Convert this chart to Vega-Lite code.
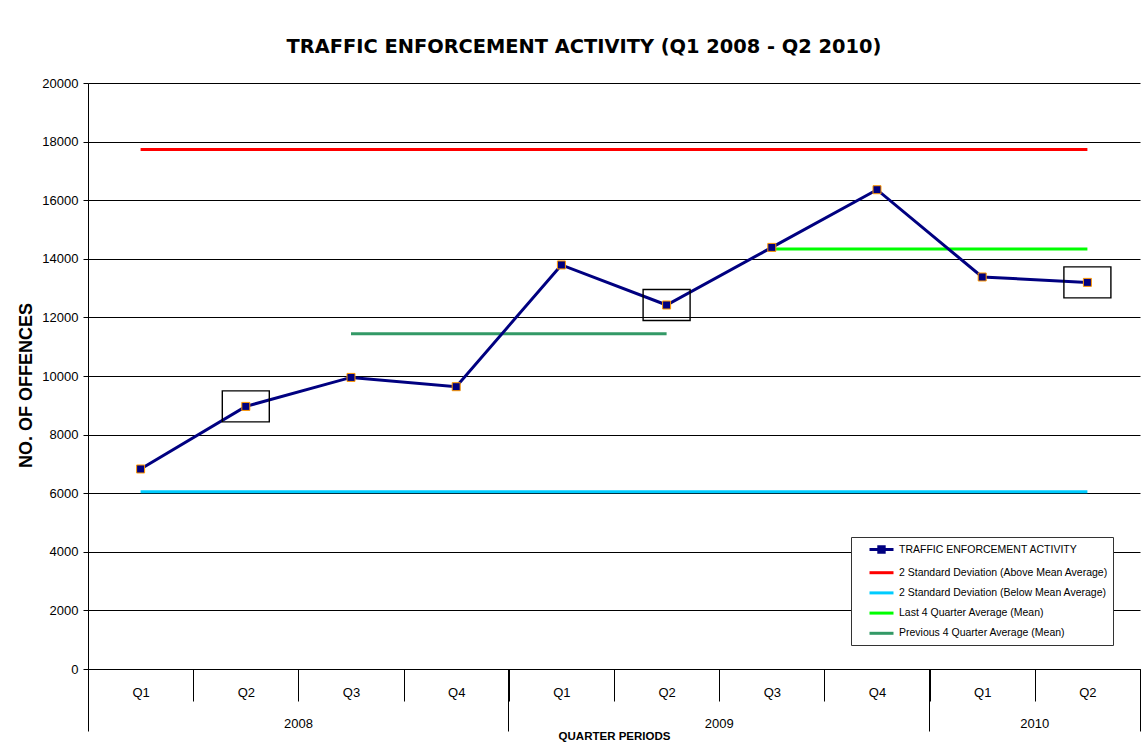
{
  "$schema": "https://vega.github.io/schema/vega-lite/v6.json",
  "autosize": "none",
  "width": 1052,
  "height": 586,
  "padding": {"left": 88, "top": 83, "right": 4, "bottom": 77},
  "background": "#ffffff",
  "config": {
    "view": {"stroke": null},
    "numberFormat": "d",
    "axisY": {
      "titleFont": "Liberation Sans", "titleFontSize": 18, "titleFontWeight": "bold", "titleColor": "#000000", "titlePadding": 6, "titleY": 302,
      "labelFont": "Liberation Sans", "labelFontSize": 13, "labelColor": "#000000", "labelPadding": 5,
      "tickSize": 5, "tickColor": "#000000", "tickCount": 10,
      "domainColor": "#000000",
      "grid": true, "gridColor": "#000000", "gridWidth": 1
    }
  },
  "title": {
    "text": "TRAFFIC ENFORCEMENT ACTIVITY (Q1 2008 - Q2 2010)",
    "font": "DejaVu Sans",
    "fontSize": 19.4,
    "fontWeight": "bold",
    "color": "#000000",
    "anchor": "middle",
    "frame": "group",
    "dx": -30,
    "offset": 20
  },
  "datasets": {
    "activity": [
      {"period": "2008 Q1", "value": 6826, "series": "TRAFFIC ENFORCEMENT ACTIVITY", "highlight": false},
      {"period": "2008 Q2", "value": 8962, "series": "TRAFFIC ENFORCEMENT ACTIVITY", "highlight": true},
      {"period": "2008 Q3", "value": 9952, "series": "TRAFFIC ENFORCEMENT ACTIVITY", "highlight": false},
      {"period": "2008 Q4", "value": 9635, "series": "TRAFFIC ENFORCEMENT ACTIVITY", "highlight": false},
      {"period": "2009 Q1", "value": 13790, "series": "TRAFFIC ENFORCEMENT ACTIVITY", "highlight": false},
      {"period": "2009 Q2", "value": 12423, "series": "TRAFFIC ENFORCEMENT ACTIVITY", "highlight": true},
      {"period": "2009 Q3", "value": 14389, "series": "TRAFFIC ENFORCEMENT ACTIVITY", "highlight": false},
      {"period": "2009 Q4", "value": 16358, "series": "TRAFFIC ENFORCEMENT ACTIVITY", "highlight": false},
      {"period": "2010 Q1", "value": 13379, "series": "TRAFFIC ENFORCEMENT ACTIVITY", "highlight": false},
      {"period": "2010 Q2", "value": 13195, "series": "TRAFFIC ENFORCEMENT ACTIVITY", "highlight": true}
    ],
    "reference": [
      {"period": "2008 Q1", "value": 17734, "series": "2 Standard Deviation (Above Mean Average)"},
      {"period": "2008 Q2", "value": 17734, "series": "2 Standard Deviation (Above Mean Average)"},
      {"period": "2008 Q3", "value": 17734, "series": "2 Standard Deviation (Above Mean Average)"},
      {"period": "2008 Q4", "value": 17734, "series": "2 Standard Deviation (Above Mean Average)"},
      {"period": "2009 Q1", "value": 17734, "series": "2 Standard Deviation (Above Mean Average)"},
      {"period": "2009 Q2", "value": 17734, "series": "2 Standard Deviation (Above Mean Average)"},
      {"period": "2009 Q3", "value": 17734, "series": "2 Standard Deviation (Above Mean Average)"},
      {"period": "2009 Q4", "value": 17734, "series": "2 Standard Deviation (Above Mean Average)"},
      {"period": "2010 Q1", "value": 17734, "series": "2 Standard Deviation (Above Mean Average)"},
      {"period": "2010 Q2", "value": 17734, "series": "2 Standard Deviation (Above Mean Average)"},
      {"period": "2008 Q1", "value": 6051, "series": "2 Standard Deviation (Below Mean Average)"},
      {"period": "2008 Q2", "value": 6051, "series": "2 Standard Deviation (Below Mean Average)"},
      {"period": "2008 Q3", "value": 6051, "series": "2 Standard Deviation (Below Mean Average)"},
      {"period": "2008 Q4", "value": 6051, "series": "2 Standard Deviation (Below Mean Average)"},
      {"period": "2009 Q1", "value": 6051, "series": "2 Standard Deviation (Below Mean Average)"},
      {"period": "2009 Q2", "value": 6051, "series": "2 Standard Deviation (Below Mean Average)"},
      {"period": "2009 Q3", "value": 6051, "series": "2 Standard Deviation (Below Mean Average)"},
      {"period": "2009 Q4", "value": 6051, "series": "2 Standard Deviation (Below Mean Average)"},
      {"period": "2010 Q1", "value": 6051, "series": "2 Standard Deviation (Below Mean Average)"},
      {"period": "2010 Q2", "value": 6051, "series": "2 Standard Deviation (Below Mean Average)"},
      {"period": "2009 Q3", "value": 14334, "series": "Last 4 Quarter Average (Mean)"},
      {"period": "2009 Q4", "value": 14334, "series": "Last 4 Quarter Average (Mean)"},
      {"period": "2010 Q1", "value": 14334, "series": "Last 4 Quarter Average (Mean)"},
      {"period": "2010 Q2", "value": 14334, "series": "Last 4 Quarter Average (Mean)"},
      {"period": "2008 Q3", "value": 11443, "series": "Previous 4 Quarter Average (Mean)"},
      {"period": "2008 Q4", "value": 11443, "series": "Previous 4 Quarter Average (Mean)"},
      {"period": "2009 Q1", "value": 11443, "series": "Previous 4 Quarter Average (Mean)"},
      {"period": "2009 Q2", "value": 11443, "series": "Previous 4 Quarter Average (Mean)"}
    ]
  },
  "resolve": {"scale": {"x": "shared", "y": "shared", "color": "shared"}, "axis": {"x": "independent", "y": "shared"}},
  "layer": [
    {
      "data": {"name": "reference"},
      "mark": {"type": "line", "strokeWidth": 3},
      "encoding": {
        "x": {
          "field": "period", "type": "ordinal",
          "scale": {"domain": ["2008 Q1","2008 Q2","2008 Q3","2008 Q4","2009 Q1","2009 Q2","2009 Q3","2009 Q4","2010 Q1","2010 Q2"], "paddingInner": 0, "paddingOuter": 0},
          "axis": {
            "orient": "bottom",
            "title": null,
            "labelAngle": 0,
            "labelExpr": "split(datum.value, ' ')[1]",
            "labelFont": "Liberation Sans", "labelFontSize": 13, "labelColor": "#000000",
            "labelBaseline": "top", "labelPadding": -14.5,
            "tickBand": "extent", "tickSize": 32, "tickColor": "#000000", "tickWidth": 1,
            "domainColor": "#000000", "domainWidth": 1,
            "grid": false
          }
        },
        "y": {
          "field": "value", "type": "quantitative",
          "title": "NO. OF OFFENCES",
          "scale": {"domain": [0, 20000], "nice": false, "zero": true}
        },
        "color": {
          "field": "series", "type": "nominal",
          "scale": {
            "domain": ["TRAFFIC ENFORCEMENT ACTIVITY", "2 Standard Deviation (Above Mean Average)", "2 Standard Deviation (Below Mean Average)", "Last 4 Quarter Average (Mean)", "Previous 4 Quarter Average (Mean)"],
            "range": ["#000080", "#FF0000", "#00CCFF", "#00FF00", "#339966"]
          },
          "legend": {
            "title": null,
            "orient": "none", "legendX": 763, "legendY": 454,
            "strokeColor": "#333333", "fillColor": "#ffffff", "padding": 5,
            "symbolType": "M-2,0L2,0", "symbolSize": 144, "symbolStrokeWidth": 3, "symbolOffset": 18,
            "labelOffset": 10, "rowPadding": 6.2,
            "labelFont": "Liberation Sans", "labelFontSize": 10.5, "labelColor": "#000000", "labelLimit": 0,
            "encode": {
              "symbols": {
                "update": {
                  "shape": {"signal": "datum.value === 'TRAFFIC ENFORCEMENT ACTIVITY' ? 'M-2,0L2,0M-0.45,-0.45L0.45,-0.45L0.45,0.45L-0.45,0.45Z' : 'M-2,0L2,0'"},
                  "fill": {"signal": "datum.value === 'TRAFFIC ENFORCEMENT ACTIVITY' ? '#000080' : 'transparent'"}
                }
              }
            }
          }
        }
      }
    },
    {
      "data": {"name": "activity"},
      "mark": {"type": "line", "strokeWidth": 3},
      "encoding": {
        "x": {"field": "period", "type": "ordinal", "axis": null},
        "y": {"field": "value", "type": "quantitative", "title": "NO. OF OFFENCES"},
        "color": {"field": "series", "type": "nominal"}
      }
    },
    {
      "data": {"name": "activity"},
      "mark": {"type": "point", "shape": "square", "filled": true, "fill": "#000080", "stroke": "#FF9900", "strokeWidth": 1, "size": 64, "opacity": 1},
      "encoding": {
        "x": {"field": "period", "type": "ordinal", "axis": null},
        "y": {"field": "value", "type": "quantitative", "title": "NO. OF OFFENCES"}
      }
    },
    {
      "data": {"name": "activity"},
      "transform": [{"filter": "datum.highlight"}],
      "mark": {"type": "point", "shape": "M-1,-0.66L1,-0.66L1,0.66L-1,0.66Z", "filled": false, "stroke": "#000000", "strokeWidth": 1.4, "size": 2209, "opacity": 1},
      "encoding": {
        "x": {"field": "period", "type": "ordinal", "axis": null},
        "y": {"field": "value", "type": "quantitative", "title": "NO. OF OFFENCES"}
      }
    },
    {
      "data": {"name": "activity"},
      "mark": {"type": "point", "opacity": 0},
      "encoding": {
        "x": {
          "field": "period", "type": "ordinal",
          "axis": {
            "orient": "bottom",
            "title": null, "domain": false, "grid": false,
            "labelAngle": 0,
            "labelExpr": "datum.value === '2008 Q3' ? '2008' : datum.value === '2009 Q3' ? '2009' : datum.value === '2010 Q2' ? '2010' : ''",
            "labelOffset": -52.6,
            "labelFont": "Liberation Sans", "labelFontSize": 13, "labelColor": "#000000",
            "labelBaseline": "top", "labelPadding": -14,
            "bandPosition": 0, "tickSize": 62, "tickColor": "#000000",
            "tickOpacity": {"condition": {"test": "datum.value === '2008 Q1' || datum.value === '2009 Q1' || datum.value === '2010 Q1'", "value": 1}, "value": 0}
          }
        },
        "y": {"field": "value", "type": "quantitative", "title": "NO. OF OFFENCES"}
      }
    },
    {
      "data": {"name": "activity"},
      "mark": {"type": "point", "opacity": 0},
      "encoding": {
        "x": {
          "field": "period", "type": "ordinal",
          "axis": {
            "orient": "bottom",
            "title": "QUARTER PERIODS",
            "titleFont": "Liberation Sans", "titleFontSize": 11.5, "titleFontWeight": "bold", "titleColor": "#000000", "titlePadding": -1,
            "domain": false, "grid": false, "labels": false,
            "bandPosition": 1, "tickSize": 62, "tickColor": "#000000",
            "tickOpacity": {"condition": {"test": "datum.value === '2010 Q2'", "value": 1}, "value": 0}
          }
        },
        "y": {"field": "value", "type": "quantitative", "title": "NO. OF OFFENCES"}
      }
    }
  ]
}
